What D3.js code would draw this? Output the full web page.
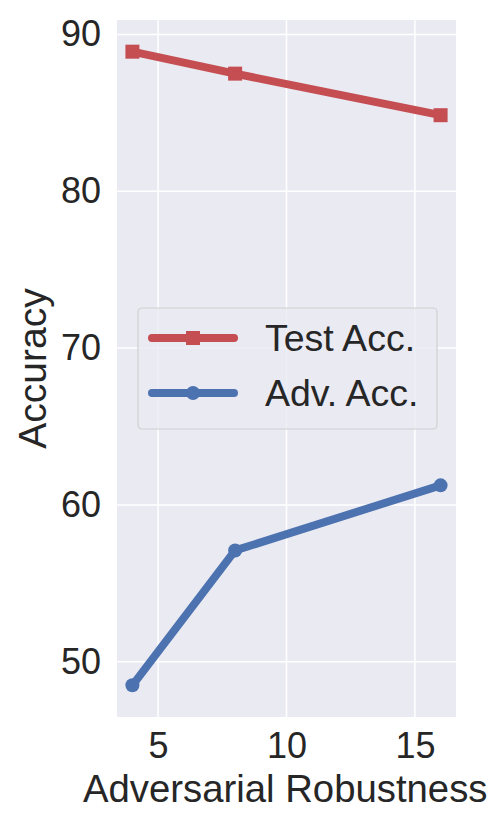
<!DOCTYPE html>
<html>
<head>
<meta charset="utf-8">
<script src="https://d3js.org/d3.v7.min.js"></script>
<style>
  body { margin: 0; background: #fff; }
  text { font-family: "Liberation Sans", Arial, sans-serif; fill: #262626; }
</style>
</head>
<body>
<div id="chart"></div>
<script>
// data
var robustness = [4, 8, 16];
var testAcc = [88.9, 87.5, 84.85];
var advAcc = [48.5, 57.1, 61.25];
var xTicks = [5, 10, 15];
var yTicks = [50, 60, 70, 80, 90];
var seriesNames = ["Test Acc.", "Adv. Acc."];

var W = 490, H = 827;
var margin = { top: 20, right: 34, bottom: 110, left: 117 };
var width = W - margin.left - margin.right,
    height = H - margin.top - margin.bottom;

var svg = d3.select("#chart").append("svg")
    .attr("width", W).attr("height", H);

var g = svg.append("g")
    .attr("transform", "translate(" + margin.left + "," + margin.top + ")");

// matplotlib style 5% margins
var xr = d3.extent(robustness), xp = (xr[1] - xr[0]) * 0.05;
var x = d3.scaleLinear().domain([xr[0] - xp, xr[1] + xp]).range([0, width]);
var allY = testAcc.concat(advAcc);
var yr = d3.extent(allY), yp = (yr[1] - yr[0]) * 0.05;
var y = d3.scaleLinear().domain([yr[0] - yp, yr[1] + yp]).range([height, 0]);

g.append("rect").attr("width", width).attr("height", height).attr("fill", "#EAEAF2");

// grid
g.selectAll(".gx").data(xTicks).enter().append("line")
    .attr("x1", d => x(d)).attr("x2", d => x(d))
    .attr("y1", 0).attr("y2", height)
    .attr("stroke", "#fff").attr("stroke-width", 1.5);
g.selectAll(".gy").data(yTicks).enter().append("line")
    .attr("y1", d => y(d)).attr("y2", d => y(d))
    .attr("x1", 0).attr("x2", width)
    .attr("stroke", "#fff").attr("stroke-width", 1.5);

// axes (labels only)
var xAxis = g.append("g")
    .attr("transform", "translate(0," + height + ")")
    .call(d3.axisBottom(x).tickValues(xTicks).tickSize(0).tickPadding(15));
xAxis.select(".domain").remove();
xAxis.selectAll("text").attr("font-size", 36).attr("fill", "#262626")
    .attr("font-family", "Liberation Sans, Arial, sans-serif");

var yAxis = g.append("g")
    .call(d3.axisLeft(y).tickValues(yTicks).tickSize(0).tickPadding(16));
yAxis.select(".domain").remove();
yAxis.selectAll("text").attr("font-size", 36).attr("fill", "#262626")
    .attr("font-family", "Liberation Sans, Arial, sans-serif");

// axis labels (x label kept just inside the right edge)
svg.append("text")
    .attr("x", 83).attr("y", 802)
    .attr("text-anchor", "start").attr("font-size", 38.3)
    .text("Adversarial Robustness");
svg.append("text")
    .attr("transform", "translate(46," + (margin.top + height / 2) + ") rotate(-90)")
    .attr("text-anchor", "middle").attr("font-size", 39)
    .text("Accuracy");

var red = "#C44E52", blue = "#4C72B0";
var line = d3.line().x(d => x(d[0])).y(d => y(d[1]));

var testPts = robustness.map((r, i) => [r, testAcc[i]]);
var advPts = robustness.map((r, i) => [r, advAcc[i]]);

g.append("path").datum(testPts).attr("d", line)
    .attr("fill", "none").attr("stroke", red).attr("stroke-width", 8)
    .attr("stroke-linecap", "round").attr("stroke-linejoin", "round");
g.selectAll(".sq").data(testPts).enter().append("rect")
    .attr("x", d => x(d[0]) - 7).attr("y", d => y(d[1]) - 7)
    .attr("width", 14).attr("height", 14).attr("fill", red);

g.append("path").datum(advPts).attr("d", line)
    .attr("fill", "none").attr("stroke", blue).attr("stroke-width", 8)
    .attr("stroke-linecap", "round").attr("stroke-linejoin", "round");
g.selectAll(".dot").data(advPts).enter().append("circle")
    .attr("cx", d => x(d[0])).attr("cy", d => y(d[1]))
    .attr("r", 7).attr("fill", blue);

// legend
var leg = svg.append("g").attr("transform", "translate(138,308)");
leg.append("rect").attr("width", 299).attr("height", 121)
    .attr("rx", 4).attr("fill", "#EAEAF2").attr("fill-opacity", 0.8)
    .attr("stroke", "#d0d0d0").attr("stroke-width", 1.2);
var rows = [{ name: seriesNames[0], color: red, shape: "square", cy: 30 },
            { name: seriesNames[1], color: blue, shape: "circle", cy: 85 }];
rows.forEach(function (r) {
    leg.append("line").attr("x1", 14).attr("x2", 96)
        .attr("y1", r.cy).attr("y2", r.cy)
        .attr("stroke", r.color).attr("stroke-width", 8).attr("stroke-linecap", "round");
    if (r.shape === "square") {
        leg.append("rect").attr("x", 48).attr("y", r.cy - 7).attr("width", 14).attr("height", 14).attr("fill", r.color);
    } else {
        leg.append("circle").attr("cx", 55).attr("cy", r.cy).attr("r", 7).attr("fill", r.color);
    }
    leg.append("text").attr("x", 127).attr("y", r.cy + 13)
        .attr("font-size", 37.5).text(r.name);
});
</script>
</body>
</html>
